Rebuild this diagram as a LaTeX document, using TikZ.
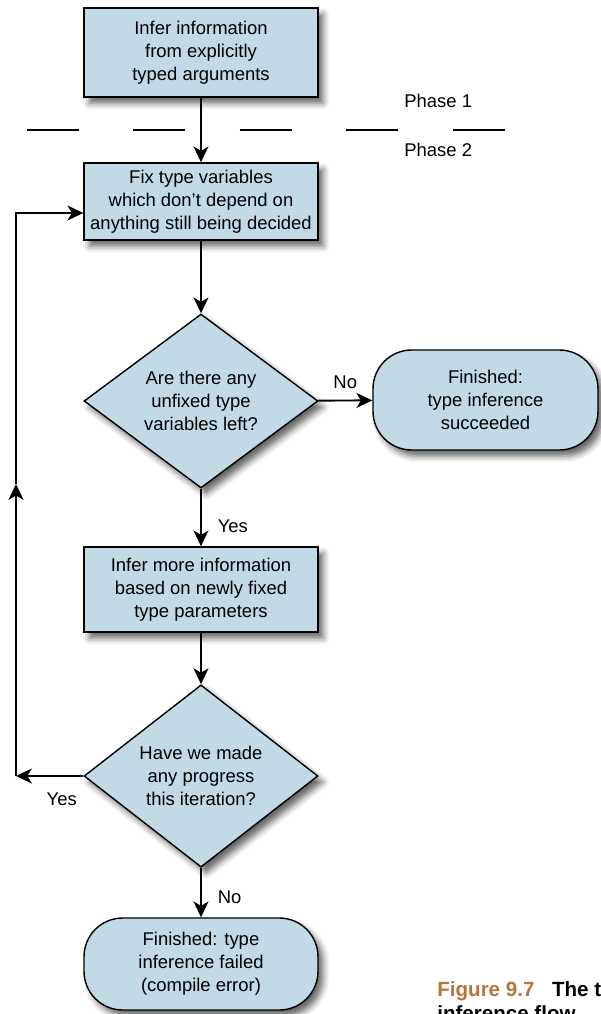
\documentclass[tikz,border=0pt]{standalone}
\usepackage{fontspec}
\setmainfont{Liberation Sans}
\usetikzlibrary{shapes.geometric,arrows.meta,shadows.blur}
\definecolor{flowblue}{RGB}{193,218,230}
\definecolor{capbrown}{RGB}{183,117,56}

\begin{document}
\begin{tikzpicture}[
  x=0.02cm, y=-0.02cm,
  font=\fontsize{10.5}{13}\selectfont,
  fig97box/.style = {draw, line width=0.8pt, fill=flowblue, align=center,
    inner sep=0pt, minimum width=4.68cm,
    blur shadow={shadow xshift=3pt, shadow yshift=-3.5pt, shadow blur radius=3.5pt, shadow opacity=60}},
  fig97dec/.style = {fig97box, diamond, minimum width=4.68cm, minimum height=3.48cm},
  fig97end/.style = {fig97box, rounded corners=22pt},
  fig97arr/.style = {-{Stealth[length=9pt, width=8.5pt, inset=2.5pt]}, line width=1.1pt},
  fig97phase/.style = {line width=0.6pt, dash pattern=on 1.04cm off 1.09cm},
  fig97lbl/.style = {inner sep=0pt}
]
  \useasboundingbox (0,0) rectangle (600,1014);
  % boxes
  \node[fig97box, minimum height=1.78cm] (infer) at (201,52.5)
    {Infer information\\from explicitly\\typed arguments};
  \node[fig97box, minimum height=1.54cm] (fix) at (201,201.5)
    {Fix type variables\\which don't depend on\\anything still being decided};
  \node[fig97dec] (left) at (201,401) {Are there any\\unfixed type\\variables left?};
  \node[fig97end, minimum width=4.5cm, minimum height=2cm] (done) at (485.5,400)
    {Finished:\\type inference\\succeeded};
  \node[fig97box, minimum height=1.7cm] (more) at (201,589.5)
    {Infer more information\\based on newly fixed\\type parameters};
  \node[fig97dec] (prog) at (201,776) {Have we made\\any progress\\this iteration?};
  \node[fig97end, minimum height=1.84cm] (fail) at (201,964)
    {Finished: type\\inference failed\\(compile error)};
  % phase line
  \coordinate (ph1) at (27,130);
  \coordinate (ph2) at (506,130);
  \draw[fig97phase] (ph1) -- (ph2);
  \node[fig97lbl, anchor=west] (p1) at (404,101) {Phase 1};
  \node[fig97lbl, anchor=west] (p2) at (404,150) {Phase 2};
  % arrows
  \draw[fig97arr] (infer) -- (fix);
  \draw[fig97arr] (fix) -- (left);
  \draw[fig97arr] (left) -- (done)
    node[fig97lbl, pos=0.5, above=6pt] (no1) {No};
  \draw[fig97arr] (left) -- (more)
    node[fig97lbl, pos=0.65, right=9pt] (yes1) {Yes};
  \draw[fig97arr] (more) -- (prog);
  \draw[fig97arr] (prog) -- (fail)
    node[fig97lbl, pos=0.6, right=9pt] (no2) {No};
  % loop back
  \coordinate (lp1) at (16,776);
  \coordinate (lpm) at (16,484);
  \coordinate (lp2) at (16,213);
  \draw[fig97arr] (prog.west) -- (lp1)
    node[fig97lbl, pos=0.32, below=9pt] (yes2) {Yes};
  \draw[fig97arr] (lp1) -- (lpm);
  \draw[fig97arr] (lpm) -- (lp2) -- (lp2 -| fix.west);
  % caption
  \node[anchor=base west, align=left, inner sep=0pt, font=\fontsize{11.7}{13.6}\selectfont\bfseries] (cap) at (437,1020)
    {\textcolor{capbrown}{Figure 9.7}\hspace{10pt}The type\\inference flow};
\end{tikzpicture}
\end{document}
